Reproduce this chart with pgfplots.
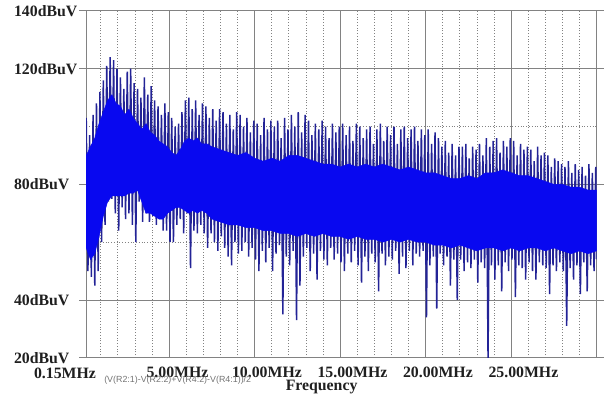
\documentclass[border=0pt]{standalone}
\usepackage{pgfplots}
\pgfplotsset{compat=1.18}
\usepackage{pgfplotstable}
\usetikzlibrary{calc}
\usepackage{fontspec}
\setmainfont{Liberation Serif}
\newfontfamily\trfont{Liberation Sans}
\definecolor{core}{RGB}{8,8,240}
\definecolor{spike}{RGB}{35,35,150}
\definecolor{gridc}{RGB}{130,130,130}

% zigzag spectrum: alternating peak / dip values (dBuV) vs frequency (MHz)
\pgfplotstableread[row sep=\\]{
f db\\
0.15 103\\ 0.25 50\\ 0.35 97\\ 0.45 48\\ 0.55 104\\ 0.65 45\\ 0.75 108\\ 0.85 50\\ 0.95 112\\ 1.05 60\\
1.15 116\\ 1.25 66\\ 1.35 121\\ 1.45 74\\ 1.55 124\\ 1.65 75\\ 1.75 123\\ 1.85 70\\ 1.95 120\\ 2.05 64\\
2.15 117\\ 2.25 72\\ 2.35 113\\ 2.45 68\\ 2.55 119\\ 2.65 70\\ 2.75 120\\ 2.85 66\\ 2.95 115\\ 3.05 60\\
3.15 113\\ 3.25 74\\ 3.35 110\\ 3.45 67\\ 3.55 117\\ 3.65 70\\ 3.75 111\\ 3.85 67\\ 3.95 114\\ 4.05 69\\
4.15 109\\ 4.25 66\\ 4.35 107\\ 4.45 68\\ 4.55 104\\ 4.65 64\\ 4.75 108\\ 4.85 64\\ 4.95 105\\ 5.05 60\\
5.15 103\\ 5.25 60\\ 5.35 100\\ 5.45 66\\ 5.55 101\\ 5.65 68\\ 5.75 105\\ 5.85 63\\ 5.95 109\\ 6.05 70\\
6.15 110\\ 6.25 51\\ 6.35 106\\ 6.45 64\\ 6.55 109\\ 6.65 63\\ 6.75 104\\ 6.85 66\\ 6.95 108\\ 7.05 63\\
7.15 107\\ 7.25 58\\ 7.35 103\\ 7.45 63\\ 7.55 106\\ 7.65 60\\ 7.75 102\\ 7.85 57\\ 7.95 106\\ 8.05 62\\
8.15 105\\ 8.25 58\\ 8.35 101\\ 8.45 55\\ 8.55 104\\ 8.65 52\\ 8.75 99\\ 8.85 60\\ 8.95 105\\ 9.05 56\\
9.15 104\\ 9.25 57\\ 9.35 100\\ 9.45 60\\ 9.55 103\\ 9.65 55\\ 9.75 98\\ 9.85 58\\ 9.95 102\\ 10.05 54\\
10.15 101\\ 10.25 50\\ 10.35 97\\ 10.45 57\\ 10.55 103\\ 10.65 53\\ 10.75 99\\ 10.85 58\\ 10.95 102\\ 11.05 50\\
11.15 100\\ 11.25 56\\ 11.35 102\\ 11.45 59\\ 11.55 96\\ 11.65 35\\ 11.75 103\\ 11.85 55\\ 11.95 99\\ 12.05 52\\
12.15 104\\ 12.25 57\\ 12.35 100\\ 12.45 33\\ 12.55 105\\ 12.65 45\\ 12.75 98\\ 12.85 55\\ 12.95 104\\ 13.05 58\\
13.15 102\\ 13.25 50\\ 13.35 97\\ 13.45 56\\ 13.55 101\\ 13.65 47\\ 13.75 99\\ 13.85 57\\ 13.95 102\\ 14.05 54\\
14.15 100\\ 14.25 52\\ 14.35 96\\ 14.45 58\\ 14.55 101\\ 14.65 54\\ 14.75 98\\ 14.85 56\\ 14.95 100\\ 15.05 53\\
15.15 101\\ 15.25 50\\ 15.35 97\\ 15.45 56\\ 15.55 100\\ 15.65 53\\ 15.75 95\\ 15.85 57\\ 15.95 101\\ 16.05 52\\
16.15 100\\ 16.25 46\\ 16.35 96\\ 16.45 55\\ 16.55 99\\ 16.65 50\\ 16.75 100\\ 16.85 56\\ 16.95 94\\ 17.05 53\\
17.15 99\\ 17.25 43\\ 17.35 101\\ 17.45 56\\ 17.55 95\\ 17.65 52\\ 17.75 100\\ 17.85 55\\ 17.95 97\\ 18.05 54\\
18.15 100\\ 18.25 57\\ 18.35 94\\ 18.45 49\\ 18.55 99\\ 18.65 55\\ 18.75 100\\ 18.85 51\\ 18.95 96\\ 19.05 57\\
19.15 99\\ 19.25 52\\ 19.35 100\\ 19.45 56\\ 19.55 95\\ 19.65 55\\ 19.75 99\\ 19.85 57\\ 19.95 97\\ 20.05 34\\
20.15 99\\ 20.25 52\\ 20.35 94\\ 20.45 55\\ 20.55 98\\ 20.65 37\\ 20.75 96\\ 20.85 56\\ 20.95 93\\ 21.05 52\\
21.15 95\\ 21.25 55\\ 21.35 91\\ 21.45 45\\ 21.55 94\\ 21.65 54\\ 21.75 90\\ 21.85 40\\ 21.95 93\\ 22.05 54\\
22.15 93\\ 22.25 50\\ 22.35 94\\ 22.45 53\\ 22.55 89\\ 22.65 51\\ 22.75 93\\ 22.85 54\\ 22.95 92\\ 23.05 46\\
23.15 94\\ 23.25 53\\ 23.35 90\\ 23.45 51\\ 23.55 96\\ 23.65 20\\ 23.75 93\\ 23.85 52\\ 23.95 95\\ 24.05 47\\
24.15 96\\ 24.25 52\\ 24.35 91\\ 24.45 43\\ 24.55 95\\ 24.65 53\\ 24.75 93\\ 24.85 50\\ 24.95 96\\ 25.05 54\\
25.15 95\\ 25.25 41\\ 25.35 90\\ 25.45 52\\ 25.55 94\\ 25.65 51\\ 25.75 92\\ 25.85 47\\ 25.95 93\\ 26.05 53\\
26.15 92\\ 26.25 50\\ 26.35 88\\ 26.45 47\\ 26.55 93\\ 26.65 53\\ 26.75 90\\ 26.85 52\\ 26.95 91\\ 27.05 51\\
27.15 90\\ 27.25 42\\ 27.35 86\\ 27.45 52\\ 27.55 89\\ 27.65 50\\ 27.75 88\\ 27.85 53\\ 27.95 87\\ 28.05 50\\
28.15 86\\ 28.25 31\\ 28.35 88\\ 28.45 51\\ 28.55 84\\ 28.65 47\\ 28.75 87\\ 28.85 52\\ 28.95 85\\ 29.05 42\\
29.15 86\\ 29.25 53\\ 29.35 83\\ 29.45 43\\ 29.55 87\\ 29.65 52\\ 29.75 84\\ 29.85 50\\ 29.95 86\\ 30.00 54\\
}\spec

% dense core band: upper edge left to right, then lower edge right to left
\pgfplotstableread[row sep=\\]{
f db\\
0.15 90\\ 0.4 93\\ 0.65 96\\ 0.9 101\\ 1.15 105\\ 1.4 109\\ 1.65 111\\ 1.9 108\\ 2.15 107\\ 2.4 104\\
2.65 106\\ 2.9 103\\ 3.15 101\\ 3.4 99\\ 3.65 101\\ 3.9 98\\ 4.15 97\\ 4.4 95\\ 4.65 94\\ 4.9 93\\
5.15 91\\ 5.4 90\\ 5.65 92\\ 5.9 95\\ 6.15 96\\ 6.4 95\\ 6.65 96\\ 6.9 94\\ 7.2 94\\ 7.5 93\\
8.0 92\\ 8.5 91\\ 9.0 90\\ 9.5 91\\ 10.0 89\\ 10.5 88\\ 11.0 89\\ 11.5 88\\ 12.0 90\\ 12.5 90\\
13.0 89\\ 13.5 88\\ 14.0 87\\ 14.5 87\\ 15.0 86\\ 15.5 87\\ 16.0 86\\ 16.5 87\\ 17.0 86\\ 17.5 87\\
18.0 86\\ 18.5 85\\ 19.0 86\\ 19.5 85\\ 20.0 84\\ 20.5 84\\ 21.0 83\\ 21.5 82\\ 22.0 82\\ 22.5 83\\
23.0 82\\ 23.5 84\\ 24.0 84\\ 24.5 85\\ 25.0 84\\ 25.5 83\\ 26.0 83\\ 26.5 82\\ 27.0 81\\ 27.5 80\\
28.0 80\\ 28.5 79\\ 29.0 79\\ 29.5 78\\ 30.0 78\\
30.0 57\\ 29.5 56\\ 29.0 57\\ 28.5 56\\ 28.0 57\\ 27.5 58\\ 27.0 57\\ 26.5 58\\ 26.0 58\\ 25.5 57\\
25.0 58\\ 24.5 57\\ 24.0 58\\ 23.5 58\\ 23.0 57\\ 22.5 58\\ 22.0 59\\ 21.5 58\\ 21.0 59\\ 20.5 59\\
20.0 60\\ 19.5 60\\ 19.0 61\\ 18.5 60\\ 18.0 61\\ 17.5 60\\ 17.0 61\\ 16.5 61\\ 16.0 62\\ 15.5 61\\
15.0 62\\ 14.5 62\\ 14.0 63\\ 13.5 62\\ 13.0 63\\ 12.5 62\\ 12.0 63\\ 11.5 63\\ 11.0 64\\ 10.5 64\\
10.0 65\\ 9.5 65\\ 9.0 66\\ 8.5 66\\ 8.0 67\\ 7.5 68\\ 7.2 70\\ 6.9 71\\ 6.65 70\\ 6.4 71\\
6.15 70\\ 5.9 71\\ 5.65 72\\ 5.4 72\\ 5.15 71\\ 4.9 70\\ 4.65 68\\ 4.4 68\\ 4.15 69\\ 3.9 70\\
3.65 70\\ 3.4 74\\ 3.15 78\\ 2.9 77\\ 2.65 77\\ 2.4 76\\ 2.15 76\\ 1.9 76\\ 1.65 76\\ 1.4 74\\
1.15 69\\ 0.9 62\\ 0.65 56\\ 0.4 54\\ 0.15 58\\
}\core

\begin{document}
\begin{tikzpicture}
\begin{axis}[name=ax,
  scale only axis, width=515bp, height=350bp,
  xmin=0.15, xmax=30, ymin=20, ymax=140,
  axis line style={gridc, line width=0.9bp},
  xtick={5,10,15,20,25},
  xticklabels={\textbf{5.00MHz},\textbf{10.00MHz},\textbf{15.00MHz},\textbf{20.00MHz},\textbf{25.00MHz}},
  minor xtick={1,2,3,4,6,7,8,9,11,12,13,14,16,17,18,19,21,22,23,24,26,27,28,29},
  ytick={20,40,80,120,140},
  yticklabels={\textbf{20dBuV},\textbf{40dBuV},\textbf{80dBuV},\textbf{120dBuV},\textbf{140dBuV}},
  minor ytick={60,100},
  grid=both,
  major grid style={gridc, line width=0.9bp},
  minor grid style={gridc, line width=0.8bp, dotted},
  tick align=outside, major tick length=7bp, minor tick length=0pt,
  xtick style={draw=none},
  ytick style={gridc, line width=0.9bp},
  ticklabel style={font=\fontsize{16}{16}\selectfont\bfseries, text=black!88},
  xticklabel style={anchor=north west, inner sep=0pt, xshift=-23bp, yshift=-2bp},
  yticklabel style={anchor=west, inner sep=0pt, xshift=-66bp, yshift=0bp},
  xlabel={\textbf{Frequency}},
  every axis x label/.style={at={(axis description cs:0.5,0)}, anchor=center,
     xshift=-20bp, yshift=-30bp, font=\fontsize{16}{16}\selectfont\bfseries, text=black!88},
]
\addplot[spike, line width=1.5bp, line join=bevel] table[x=f, y=db]{\spec};
\addplot[fill=core, draw=core, line width=0.5bp] table[x=f, y=db]{\core};
\end{axis}
\node[anchor=north east, inner sep=0pt, font=\fontsize{16}{16}\selectfont\bfseries, text=black!88]
  at ($(ax.south west)+(10bp,-10bp)$) {0.15MHz};
\node[anchor=west, inner sep=0pt, font=\trfont\fontsize{9}{9}\selectfont, text=black!55]
  at ($(ax.south west)+(18bp,-23bp)$) {(V(R2:1)-V(R2:2)+V(R4:2)-V(R4:1))/2};
\path ($(ax.south west)+(-87bp,-38bp)$) rectangle ($(ax.north east)+(2bp,11bp)$);
\end{tikzpicture}
\end{document}
